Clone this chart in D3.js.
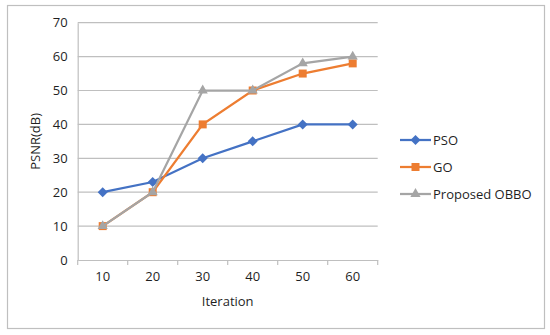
<!DOCTYPE html>
<html>
<head>
<meta charset="utf-8">
<script src="https://cdn.jsdelivr.net/npm/d3@7"></script>
<style>
  body { margin: 0; background: #fff; }
  text { font-family: "Open Sans", "Liberation Sans", sans-serif; fill: #1f1f1f; }
</style>
</head>
<body>
<div id="chart"></div>
<script>
// chart data
const iterations = [10, 20, 30, 40, 50, 60];
const psoValues = [20, 23, 30, 35, 40, 40];
const goValues = [10, 20, 40, 50, 55, 58];
const obboValues = [10, 20, 50, 50, 58, 60];
const yTicks = [0, 10, 20, 30, 40, 50, 60, 70];

// diamond = square turned by 45 degrees
const series = [
  { name: "PSO", values: psoValues, color: "#4472C4", symbol: d3.symbolSquare, size: 50, rot: 45 },
  { name: "GO", values: goValues, color: "#ED7D31", symbol: d3.symbolSquare, size: 64, rot: 0 },
  { name: "Proposed OBBO", values: obboValues, color: "#A5A5A5", symbol: d3.symbolTriangle, size: 45, rot: 0 }
];

const width = 550;
const height = 335;
const margin = { top: 22.7, left: 77.7, right: 172.3, bottom: 75 };

const svg = d3.select('#chart')
  .append('svg')
  .attr('width', width)
  .attr('height', height);

// outer frame
svg.append('rect')
  .attr('x', 7.5).attr('y', 5.5)
  .attr('width', 537).attr('height', 323)
  .attr('fill', 'none')
  .attr('stroke', '#bfbfbf')
  .attr('stroke-width', 1.2);

const x = d3.scaleBand()
  .domain(iterations)
  .range([margin.left, width - margin.right]);

const y = d3.scaleLinear()
  .domain([0, 70])
  .range([260, margin.top]);

// gridlines
svg.append('g')
  .selectAll('line')
  .data(yTicks.filter(t => t > 0))
  .join('line')
  .attr('x1', margin.left)
  .attr('x2', width - margin.right)
  .attr('y1', d => y(d))
  .attr('y2', d => y(d))
  .attr('stroke', '#bfbfbf')
  .attr('stroke-width', 1.2);

// y axis
const yAxis = svg.append('g')
  .attr('transform', `translate(${margin.left}, 0)`)
  .call(d3.axisLeft(y).tickValues(yTicks).tickSize(0).tickPadding(10));
yAxis.select('.domain').attr('stroke', '#bfbfbf').attr('stroke-width', 1.2);
yAxis.selectAll('text').attr('font-size', '13px');

// x axis with ticks at band boundaries
const xAxis = svg.append('g')
  .attr('transform', `translate(0, ${y(0)})`)
  .call(d3.axisBottom(x).tickSize(0).tickPadding(12));
xAxis.select('.domain').attr('stroke', '#bfbfbf').attr('stroke-width', 1.2);
xAxis.selectAll('text').attr('font-size', '13px');
xAxis.selectAll('.bound')
  .data(iterations.map(d => x(d)).concat([x.range()[1]]))
  .join('line')
  .attr('class', 'bound')
  .attr('x1', d => d).attr('x2', d => d)
  .attr('y1', 0).attr('y2', 5)
  .attr('stroke', '#bfbfbf')
  .attr('stroke-width', 1.2);

// axis titles
svg.append('text')
  .attr('x', (margin.left + width - margin.right) / 2)
  .attr('y', 306)
  .attr('text-anchor', 'middle')
  .attr('font-size', '13px')
  .text('Iteration');

svg.append('text')
  .attr('transform', `translate(40, ${(y(0) + margin.top) / 2}) rotate(-90)`)
  .attr('text-anchor', 'middle')
  .attr('font-size', '13px')
  .text('PSNR(dB)');

const cx = d => x(d) + x.bandwidth() / 2;
const line = d3.line()
  .x((d, i) => cx(iterations[i]))
  .y(d => y(d));

series.forEach(s => {
  svg.append('path')
    .datum(s.values)
    .attr('d', line)
    .attr('fill', 'none')
    .attr('stroke', s.color)
    .attr('stroke-width', 2.25);

  svg.append('g')
    .selectAll('path')
    .data(s.values)
    .join('path')
    .attr('transform', (d, i) => `translate(${cx(iterations[i])}, ${y(d)}) rotate(${s.rot})`)
    .attr('d', d3.symbol(s.symbol, s.size))
    .attr('fill', s.color);
});

// legend
const legend = svg.append('g')
  .attr('transform', 'translate(400, 140)');

const rows = legend.selectAll('g')
  .data(series)
  .join('g')
  .attr('transform', (d, i) => `translate(0, ${i * 27})`);

rows.append('line')
  .attr('x1', 0).attr('x2', 31)
  .attr('stroke', d => d.color)
  .attr('stroke-width', 2.25);

rows.append('path')
  .attr('transform', d => `translate(15.5, 0) rotate(${d.rot})`)
  .attr('d', d => d3.symbol(d.symbol, d.size)())
  .attr('fill', d => d.color);

rows.append('text')
  .attr('x', 33)
  .attr('dy', '0.35em')
  .attr('font-size', '13px')
  .text(d => d.name);
</script>
</body>
</html>
